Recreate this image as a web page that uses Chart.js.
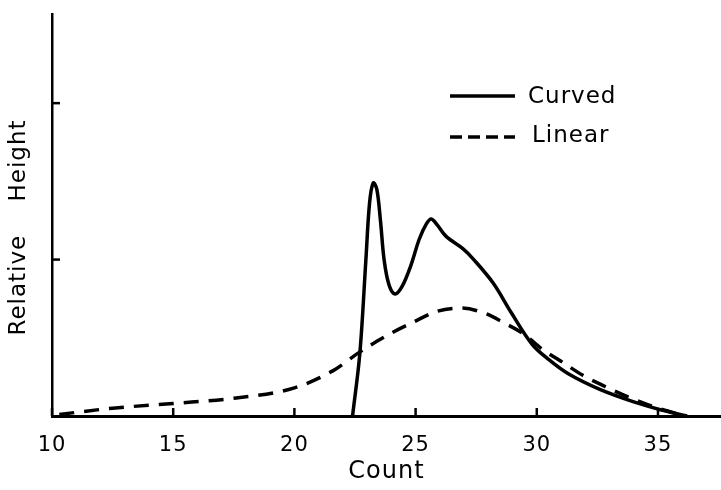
<!DOCTYPE html>
<html>
<head>
<meta charset="utf-8">
<script src="https://cdn.jsdelivr.net/npm/chart.js@4.4.0/dist/chart.umd.min.js"></script>
<style>
  html, body { margin: 0; padding: 0; background: #fff; }
  #wrap { width: 721px; height: 490px; }
</style>
</head>
<body>
<div id="wrap"><canvas id="chart"></canvas></div>
<script>
// Curved series (count, relative height)
let curvedX = [22.4, 22.7, 22.95, 23.1, 23.25, 23.4, 23.55, 23.7, 23.9, 24.15, 24.45, 24.8, 25.15, 25.45, 25.65, 25.9, 26.25, 26.95, 27.4, 28.2, 28.95, 29.8, 30.5, 31.3, 32.6, 34.0, 35.1, 36.2];
let curvedY = [0.0, 0.4, 1.0, 1.36, 1.49, 1.45, 1.25, 1.0, 0.84, 0.78, 0.83, 0.96, 1.13, 1.23, 1.26, 1.22, 1.15, 1.07, 1.0, 0.85, 0.66, 0.46, 0.36, 0.27, 0.17, 0.09, 0.04, 0.0];

// Linear series
let linearX = [10.3, 12.5, 15.0, 17.6, 20.0, 21.6, 22.7, 24.0, 24.9, 25.9, 26.9, 27.8, 28.6, 29.5, 30.2, 31.0, 31.9, 32.8, 33.8, 34.8, 36.1];
let linearY = [0.01, 0.05, 0.08, 0.115, 0.18, 0.29, 0.41, 0.53, 0.6, 0.67, 0.69, 0.66, 0.6, 0.52, 0.43, 0.35, 0.26, 0.19, 0.12, 0.06, 0.0];

let seriesNames = ["Curved", "Linear"];
let xTicks = [10, 15, 20, 25, 30, 35];
let yTicks = [1, 2];

function toPoints(xs, ys){
  return xs.map((x, i) => ({ x: x, y: ys[i] }));
}

let FONT = "'DejaVu Sans', sans-serif";

// Draw tick marks pointing into the plot, and the legend inside the plot
let extrasPlugin = {
  id: "extras",
  beforeDraw(chart){
    chart.ctx.letterSpacing = "1px";
  },
  afterDraw(chart){
    let ctx = chart.ctx;
    let xs = chart.scales.x, ys = chart.scales.y;
    let area = chart.chartArea;
    ctx.save();
    ctx.strokeStyle = "#000";
    ctx.lineWidth = 2.5;
    xTicks.forEach((v) => {
      let px = xs.getPixelForValue(v);
      ctx.beginPath();
      ctx.moveTo(px, area.bottom);
      ctx.lineTo(px, area.bottom - 8);
      ctx.stroke();
    });
    yTicks.forEach((v) => {
      let py = ys.getPixelForValue(v);
      ctx.beginPath();
      ctx.moveTo(area.left, py);
      ctx.lineTo(area.left + 8, py);
      ctx.stroke();
    });

    // legend
    let lx = 450;
    let rows = [{ y: 96, ty: 97, dash: [], tx: 528 }, { y: 137, ty: 136, dash: [12, 6], tx: 532 }];
    chart.data.datasets.forEach((ds, i) => {
      let r = rows[i];
      ctx.strokeStyle = ds.borderColor;
      ctx.lineWidth = ds.borderWidth;
      ctx.setLineDash(r.dash);
      ctx.beginPath();
      ctx.moveTo(lx, r.y);
      ctx.lineTo(lx + 65, r.y);
      ctx.stroke();
      ctx.setLineDash([]);
      ctx.fillStyle = "#000";
      ctx.font = "23px " + FONT;
      ctx.textBaseline = "middle";
      ctx.fillText(ds.label, r.tx, r.ty);
    });
    ctx.restore();
  }
};

new Chart(document.getElementById("chart").getContext("2d"), {
  type: "scatter",
  data: {
    datasets: [
      {
        label: seriesNames[0],
        data: toPoints(curvedX, curvedY),
        showLine: true,
        borderColor: "#000",
        borderWidth: 3.5,
        pointRadius: 0,
        tension: 0.35,
      },
      {
        label: seriesNames[1],
        data: toPoints(linearX, linearY),
        showLine: true,
        borderColor: "#000",
        borderWidth: 3.5,
        borderDash: [15, 10],
        pointRadius: 0,
        cubicInterpolationMode: "monotone",
      },
    ],
  },
  options: {
    responsive: true,
    maintainAspectRatio: false,
    animation: false,
    layout: { padding: { top: 14, right: 0, left: 0, bottom: 0 } },
    plugins: { legend: { display: false }, tooltip: { enabled: false } },
    scales: {
      x: {
        type: "linear",
        min: 10,
        max: 37.6,
        afterBuildTicks: (scale) => { scale.ticks = xTicks.map((v) => ({ value: v })); },
        afterFit: (scale) => { scale.height = 74; },
        grid: { display: false },
        border: { color: "#000", width: 3 },
        ticks: { color: "#000", font: { family: FONT, size: 21 }, padding: 9, maxRotation: 0 },
        title: { display: true, text: "Count", color: "#000", font: { family: FONT, size: 24 }, padding: { top: 0, bottom: 4 } },
      },
      y: {
        type: "linear",
        min: 0,
        max: 2.57,
        afterBuildTicks: (scale) => { scale.ticks = yTicks.map((v) => ({ value: v })); },
        afterFit: (scale) => { scale.width = 52; },
        grid: { display: false },
        border: { color: "#000", width: 2.5 },
        ticks: { display: false },
        title: { display: true, text: "Relative    Height   ", color: "#000", font: { family: FONT, size: 23 }, padding: { top: 5 } },
      },
    },
  },
  plugins: [extrasPlugin],
});
</script>
</body>
</html>
